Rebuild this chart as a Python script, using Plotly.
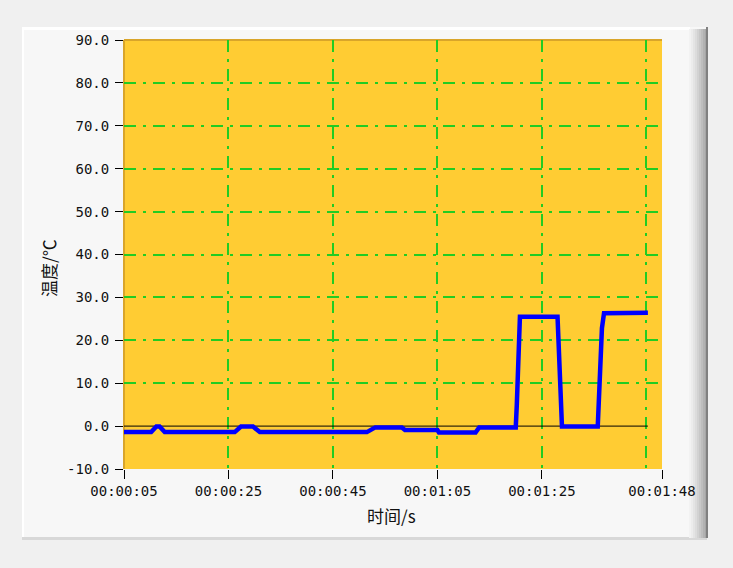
import plotly.graph_objects as go

# ---- data ----
times = [5, 10.2, 11.2, 11.8, 12.8, 26.2, 27.4, 29.7, 31.0, 51.5, 53.1, 58.2, 58.8,
         65.0, 65.3, 72.3, 73.0, 80.0, 80.2, 80.4, 80.6, 80.8, 88.0, 88.1, 88.5,
         88.65, 88.85, 95.7, 95.8, 96.0, 96.3, 96.5, 96.9, 105.3]
temps = [-1.4, -1.4, -0.1, -0.1, -1.4, -1.4, -0.1, -0.1, -1.4, -1.4, -0.3, -0.3, -0.9,
         -0.9, -1.5, -1.5, -0.3, -0.3, 4.9, 11.9, 21.7, 25.5, 25.5, 21.7, 13.1,
         4.9, -0.1, -0.1, 3.0, 10.0, 16.6, 22.8, 26.3, 26.4]

x_tick_vals = [5, 25, 45, 65, 85, 108]
x_tick_text = ["00:00:05", "00:00:25", "00:00:45", "00:01:05", "00:01:25", "00:01:48"]
x_grid_vals = [25, 45, 65, 85, 105]
y_tick_vals = [-10, 0, 10, 20, 30, 40, 50, 60, 70, 80, 90]
y_tick_text = ["-10.0", "0.0", "10.0", "20.0", "30.0", "40.0", "50.0", "60.0", "70.0", "80.0", "90.0"]
y_grid_vals = [10, 20, 30, 40, 50, 60, 70, 80]

W, H = 733, 568
L, R, T, B = 124, 662, 40, 469


def px(x):
    return (x - L) / (R - L)


def py(y):
    return (B - y) / (B - T)


fig = go.Figure()
fig.add_trace(go.Scatter(x=[times[0], times[-1]], y=[0, 0], mode="lines",
                         line=dict(color="#000000", width=1), hoverinfo="skip"))
fig.add_trace(go.Scatter(x=times, y=temps, mode="lines",
                         line=dict(color="#0000ff", width=4.5)))

shapes = []
# panel
shapes.append(dict(type="rect", xref="paper", yref="paper", layer="below",
                   x0=px(22), x1=px(707), y0=py(538), y1=py(27),
                   fillcolor="#f7f7f7", line=dict(width=0)))
shapes.append(dict(type="rect", xref="paper", yref="paper", layer="below",
                   x0=px(22), x1=px(690), y0=py(30), y1=py(27),
                   fillcolor="#ffffff", line=dict(width=0)))
shapes.append(dict(type="rect", xref="paper", yref="paper", layer="below",
                   x0=px(22), x1=px(24), y0=py(538), y1=py(27),
                   fillcolor="#ffffff", line=dict(width=0)))
shapes.append(dict(type="rect", xref="paper", yref="paper", layer="below",
                   x0=px(22), x1=px(707), y0=py(540), y1=py(537),
                   fillcolor="#d8d8d8", line=dict(width=0)))
# right shadow gradient
grads = ["#f2f2f2", "#ececec", "#e4e4e4", "#dcdcdc", "#d2d2d2", "#c8c8c8",
         "#bdbdbd", "#b2b2b2", "#a6a6a6"]
for i, c in enumerate(grads):
    shapes.append(dict(type="rect", xref="paper", yref="paper", layer="below",
                       x0=px(689 + i * 2), x1=px(691 + i * 2), y0=py(538), y1=py(29),
                       fillcolor=c, line=dict(width=0)))
shapes.append(dict(type="rect", xref="paper", yref="paper", layer="below",
                   x0=px(706), x1=px(708), y0=py(538), y1=py(27),
                   fillcolor="#808080", line=dict(width=0)))
# plot area
shapes.append(dict(type="rect", xref="paper", yref="paper", layer="below",
                   x0=0, x1=1, y0=0, y1=1, fillcolor="#ffcc33", line=dict(width=0)))
shapes.append(dict(type="line", xref="paper", yref="paper", layer="below",
                   x0=0, x1=1, y0=1, y1=1, line=dict(color="#d9a52a", width=2)))
shapes.append(dict(type="line", xref="paper", yref="paper", layer="below",
                   x0=0, x1=0, y0=0, y1=1, line=dict(color="#d9a52a", width=2)))

grid_color = "#22cc22"
dash = "12px,7px,3px,7px"
tick_font = dict(family="DejaVu Sans Mono", size=14, color="#111111")

fig.update_layout(
    width=W, height=H,
    margin=dict(l=L, r=W - R, t=T, b=H - B, autoexpand=False),
    paper_bgcolor="#f0f0f0",
    plot_bgcolor="rgba(0,0,0,0)",
    showlegend=False,
    shapes=shapes,
    font=dict(family="DejaVu Sans Mono", size=14, color="#111111"),
    xaxis=dict(range=[5, 108], tickmode="array", tickvals=x_tick_vals, ticktext=x_tick_text,
               showgrid=False, zeroline=False, showline=False,
               ticks="outside", ticklen=9, tickwidth=1, tickcolor="#000000",
               tickfont=tick_font,
               minor=dict(tickmode="array", tickvals=x_grid_vals, showgrid=True,
                          gridcolor=grid_color, gridwidth=2, griddash=dash, ticks=""),
               fixedrange=True),
    yaxis=dict(range=[-10, 90], tickmode="array", tickvals=y_tick_vals, ticktext=y_tick_text,
               showgrid=False, zeroline=False, showline=False,
               ticks="outside", ticklen=8, tickwidth=1, tickcolor="#000000",
               tickfont=tick_font, ticklabelstandoff=3,
               minor=dict(tickmode="array", tickvals=y_grid_vals, showgrid=True,
                          gridcolor=grid_color, gridwidth=2, griddash=dash, ticks=""),
               fixedrange=True),
    annotations=[
        dict(text="时间/s", xref="paper", yref="paper", x=px(391), y=py(515),
             showarrow=False, xanchor="center", yanchor="middle",
             font=dict(family="Noto Sans CJK SC", size=17, color="#111111")),
        dict(text="温度/℃", xref="paper", yref="paper", x=px(48), y=py(268),
             showarrow=False, xanchor="center", yanchor="middle", textangle=-90,
             font=dict(family="Noto Sans CJK SC", size=17, color="#111111")),
    ],
)

fig.write_html("out.html", config={"displayModeBar": False},
               post_script="document.body.style.margin='0';document.body.style.background='#f0f0f0';")
